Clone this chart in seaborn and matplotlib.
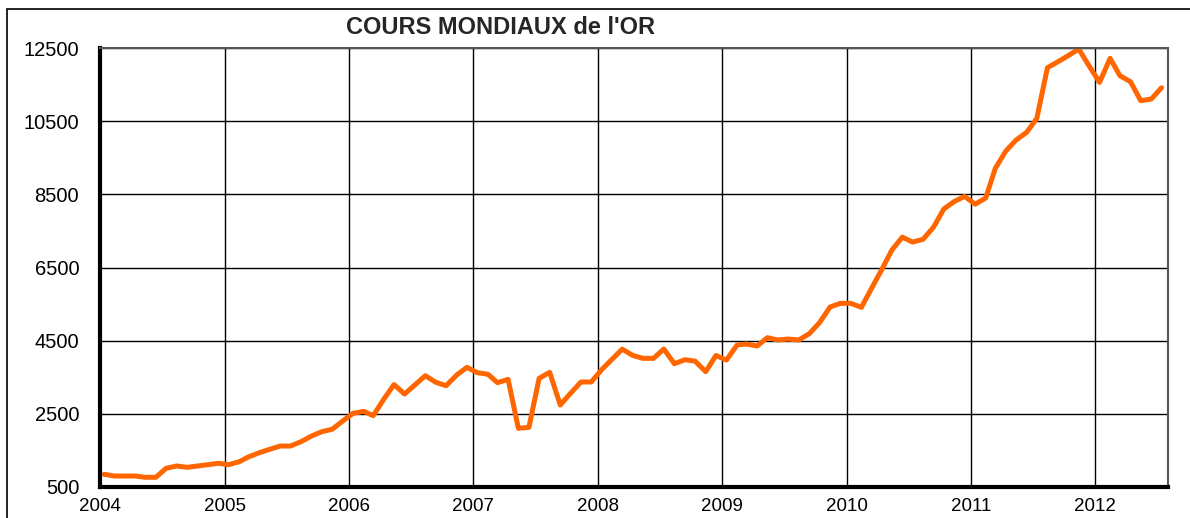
import numpy as np
import pandas as pd
import seaborn as sns
import matplotlib.pyplot as plt
import matplotlib.dates as mdates
from matplotlib.patches import Rectangle

# monthly gold price, Jan 2004 .. Jul 2012
gold = [847, 800, 800, 800, 765, 765, 1011, 1074, 1038, 1074, 1110, 1147,
        1110, 1192, 1328, 1438, 1530, 1620, 1620, 1738, 1894, 2011, 2080, 2300,
        2514, 2567, 2450, 2900, 3300, 3040, 3288, 3542, 3361, 3269, 3561, 3771,
        3624, 3580, 3351, 3443, 2104, 2131, 3470, 3635, 2741, 3060, 3370, 3370,
        3710, 4000, 4268, 4095, 4017, 4017, 4272, 3870, 3980, 3940, 3652, 4095,
        3971, 4381, 4408, 4354, 4581, 4518, 4545, 4518, 4690, 4990, 5420, 5520,
        5520, 5411, 5900, 6430, 6970, 7330, 7196, 7270, 7606, 8100, 8307, 8443,
        8230, 8400, 9210, 9683, 9984, 10194, 10577, 11960, 12126, 12290, 12471, 12015,
        11560, 12216, 11742, 11577, 11060, 11105, 11413]
months = pd.date_range("2004-01-01", periods=len(gold), freq="MS") + pd.Timedelta(days=12)
y_ticks = [500, 2500, 4500, 6500, 8500, 10500, 12500]

df = pd.DataFrame({"date": months, "cours": gold})

sns.set_style("white")
plt.rcParams["font.family"] = ["Liberation Sans", "DejaVu Sans"]

fig = plt.figure(figsize=(11.9, 5.18), dpi=100)
ax = fig.add_axes([100 / 1190, 1 - 487 / 518, 1068 / 1190, 439 / 518])

sns.lineplot(data=df, x="date", y="cours", ax=ax, color="#FF6600", linewidth=3.6)

ax.set_xlim(pd.Timestamp("2004-01-01"), pd.Timestamp("2012-08-01"))
ax.set_ylim(500, 12500)
ax.set_yticks(y_ticks)
ax.xaxis.set_major_locator(mdates.YearLocator())
ax.xaxis.set_major_formatter(mdates.DateFormatter("%Y"))
ax.grid(True, color="black", linewidth=1.0)
ax.set_axisbelow(True)
ax.set_xlabel("")
ax.set_ylabel("")

for s in ["left", "bottom"]:
    ax.spines[s].set_linewidth(3)
    ax.spines[s].set_color("black")
for s in ["top", "right"]:
    ax.spines[s].set_linewidth(1.5)
    ax.spines[s].set_color("#555555")

ax.tick_params(axis="both", direction="out", length=6, width=3, color="black",
               labelcolor="black")
ax.tick_params(axis="y", pad=9, labelsize=14.5)
ax.tick_params(axis="x", pad=2, labelsize=13.5)

fig.text(501 / 1190, 1 - 28 / 518, "COURS MONDIAUX de l'OR", ha="center", va="center",
         fontsize=17, fontweight="bold")

# outer frame
fig.patches.append(Rectangle((7 / 1190, -0.1), 1.2, 1 - 9 / 518 + 0.1,
                             transform=fig.transFigure, fill=False,
                             edgecolor="black", linewidth=1.2))

fig.savefig("out.png", dpi=100)
